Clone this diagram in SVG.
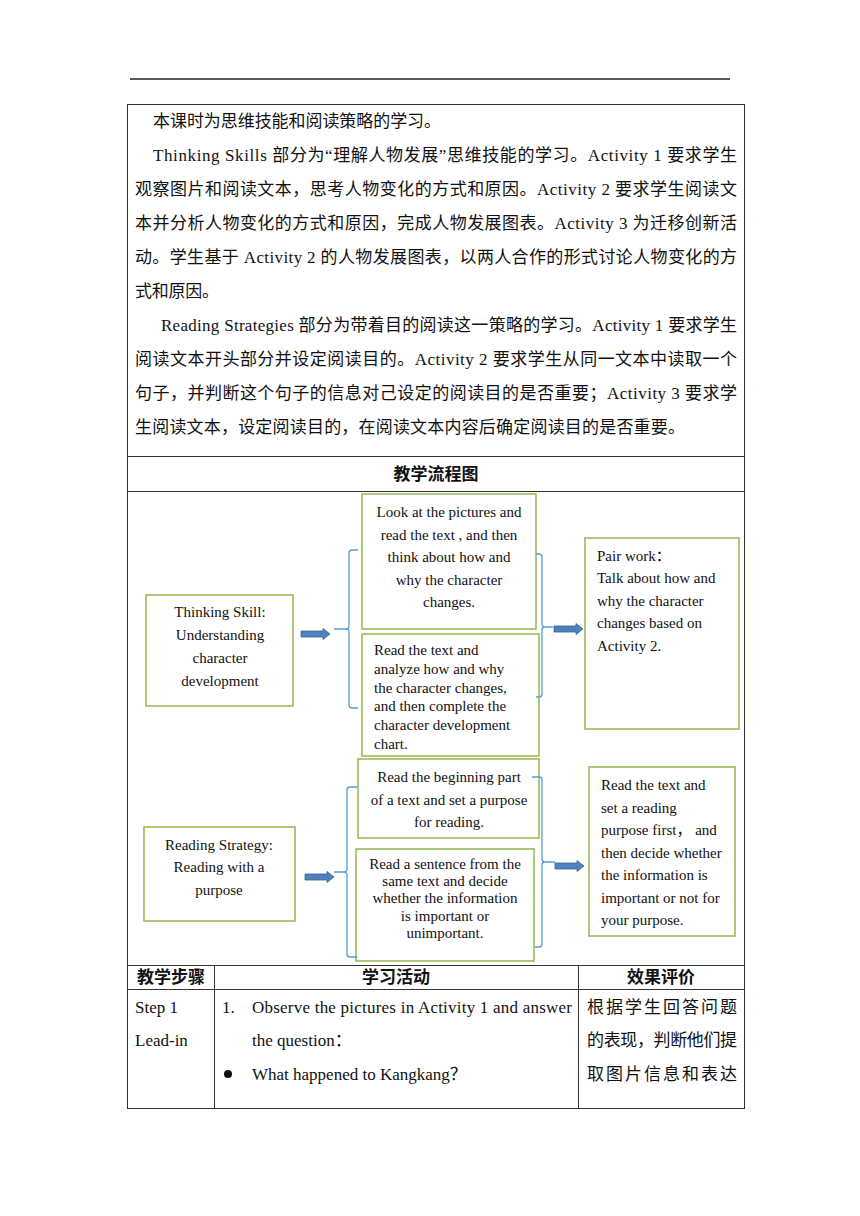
<svg xmlns="http://www.w3.org/2000/svg" xmlns:xlink="http://www.w3.org/1999/xlink" width="860" height="1216" viewBox="0 0 860 1216">
<style>
.p{font-family:"Liberation Serif","Noto Sans CJK SC",serif;font-size:17px;fill:#111}
.h{font-family:"Liberation Serif","Noto Sans CJK SC",sans-serif;font-size:17px;font-weight:bold;fill:#111}
.t{font-family:"Liberation Serif","Noto Sans CJK SC",serif;font-size:17px;fill:#111}
.f{font-family:"Liberation Serif","Noto Sans CJK SC",serif;font-size:15px;fill:#111}
.box{fill:#fff;stroke:#9BBB59;stroke-width:1.6}
.grid{stroke:#333;stroke-width:1;fill:none}
.br{fill:none;stroke:#5B9BD5;stroke-width:1.3}
.ar{fill:#4F81BD;stroke:#3A6496;stroke-width:0.8}
</style>
<defs>
<path id="arr" d="M0,-3 H22 V-5.5 L29,0 L22,5.5 V3 H0 Z"/>
</defs>
<rect width="860" height="1216" fill="#fff"/>
<line x1="130" y1="79" x2="730" y2="79" stroke="#222" stroke-width="1.5"/>
<g id="table">
<rect class="grid" x="127.5" y="104.5" width="617" height="1004"/>
<line class="grid" x1="127.5" y1="456.5" x2="744.5" y2="456.5"/>
<line class="grid" x1="127.5" y1="491.5" x2="744.5" y2="491.5"/>
<line class="grid" x1="127.5" y1="965.5" x2="744.5" y2="965.5"/>
<line class="grid" x1="127.5" y1="989.5" x2="744.5" y2="989.5"/>
<line class="grid" x1="214.5" y1="965.5" x2="214.5" y2="1108.5"/>
<line class="grid" x1="578.5" y1="965.5" x2="578.5" y2="1108.5"/>
</g>
<g id="intro">
<text class="p" x="153" y="127" textLength="288" lengthAdjust="spacing">本课时为思维技能和阅读策略的学习。</text>
<text class="p" x="153" y="161" textLength="584" lengthAdjust="spacing">Thinking Skills 部分为“理解人物发展”思维技能的学习。Activity 1 要求学生</text>
<text class="p" x="135" y="195" textLength="602" lengthAdjust="spacing">观察图片和阅读文本，思考人物变化的方式和原因。Activity 2 要求学生阅读文</text>
<text class="p" x="135" y="229" textLength="602" lengthAdjust="spacing">本并分析人物变化的方式和原因，完成人物发展图表。Activity 3 为迁移创新活</text>
<text class="p" x="135" y="263" textLength="602" lengthAdjust="spacing">动。学生基于 Activity 2 的人物发展图表，以两人合作的形式讨论人物变化的方</text>
<text class="p" x="135" y="297" textLength="84" lengthAdjust="spacing">式和原因。</text>
<text class="p" x="161" y="331" textLength="576" lengthAdjust="spacing">Reading Strategies 部分为带着目的阅读这一策略的学习。Activity 1 要求学生</text>
<text class="p" x="135" y="365" textLength="602" lengthAdjust="spacing">阅读文本开头部分并设定阅读目的。Activity 2 要求学生从同一文本中读取一个</text>
<text class="p" x="135" y="399" textLength="602" lengthAdjust="spacing">句子，并判断这个句子的信息对己设定的阅读目的是否重要；Activity 3 要求学</text>
<text class="p" x="135" y="433" textLength="550" lengthAdjust="spacing">生阅读文本，设定阅读目的，在阅读文本内容后确定阅读目的是否重要。</text>
<text class="h" x="436" y="480" text-anchor="middle">教学流程图</text>
</g>
<g id="node-thinking">
<rect class="box" x="146" y="595" width="147" height="111"/>
<text class="f" text-anchor="middle"><tspan x="220" y="617">Thinking Skill:</tspan><tspan x="220" y="640">Understanding</tspan><tspan x="220" y="663">character</tspan><tspan x="220" y="686">development</tspan></text>
</g>
<g id="node-look">
<rect class="box" x="362" y="494" width="174" height="135"/>
<text class="f" text-anchor="middle"><tspan x="449" y="517">Look at the pictures and</tspan><tspan x="449" y="540">read the text , and then</tspan><tspan x="449" y="562">think about how and</tspan><tspan x="449" y="585">why the character</tspan><tspan x="449" y="607">changes.</tspan></text>
</g>
<g id="node-analyze">
<rect class="box" x="362" y="634" width="177" height="122"/>
<text class="f"><tspan x="374" y="655">Read the text and</tspan><tspan x="374" y="674">analyze how and why</tspan><tspan x="374" y="693">the character changes,</tspan><tspan x="374" y="711">and then complete the</tspan><tspan x="374" y="730">character development</tspan><tspan x="374" y="749">chart.</tspan></text>
</g>
<g id="node-pair">
<rect class="box" x="585" y="538" width="154" height="191"/>
<text class="f"><tspan x="597" y="561">Pair work：</tspan><tspan x="597" y="583">Talk about how and</tspan><tspan x="597" y="606">why the character</tspan><tspan x="597" y="628">changes based on</tspan><tspan x="597" y="651">Activity 2.</tspan></text>
</g>
<g id="node-strategy">
<rect class="box" x="144" y="827" width="151" height="94"/>
<text class="f" text-anchor="middle"><tspan x="219" y="850">Reading Strategy:</tspan><tspan x="219" y="872">Reading with a</tspan><tspan x="219" y="895">purpose</tspan></text>
</g>
<g id="node-beginning">
<rect class="box" x="358" y="759" width="181" height="79"/>
<text class="f" text-anchor="middle"><tspan x="449" y="782">Read the beginning part</tspan><tspan x="449" y="805">of a text and set a purpose</tspan><tspan x="449" y="827">for reading.</tspan></text>
</g>
<g id="node-sentence">
<rect class="box" x="356" y="849" width="178" height="112"/>
<text class="f" text-anchor="middle"><tspan x="445" y="869">Read a sentence from the</tspan><tspan x="445" y="886">same text and decide</tspan><tspan x="445" y="903">whether the information</tspan><tspan x="445" y="921">is important or</tspan><tspan x="445" y="938">unimportant.</tspan></text>
</g>
<g id="node-purpose">
<rect class="box" x="589" y="767" width="146" height="169"/>
<text class="f"><tspan x="601" y="790">Read the text and</tspan><tspan x="601" y="813">set a reading</tspan><tspan x="601" y="835">purpose first， and</tspan><tspan x="601" y="858">then decide whether</tspan><tspan x="601" y="880">the information is</tspan><tspan x="601" y="903">important or not for</tspan><tspan x="601" y="925">your purpose.</tspan></text>
</g>
<g id="connectors">
<path class="br" d="M358,550 H352 Q349,550 349,553 V626 Q349,629 346,629 H334 M346,629 Q349,629 349,632 V705 Q349,708 352,708 H358"/>
<path class="br" d="M536,554 H539 Q542,554 542,557 V624 Q542,627 545,627 H553 M545,627 Q542,627 542,630 V694 Q542,697 539,697 H536"/>
<path class="br" d="M357,787 H350 Q347,787 347,790 V869 Q347,872 344,872 H334 M344,872 Q347,872 347,875 V954 Q347,957 350,957 H357"/>
<path class="br" d="M532,777 H539 Q542,777 542,780 V859 Q542,862 545,862 H555 M545,862 Q542,862 542,865 V944 Q542,947 539,947 H535"/>
<use href="#arr" xlink:href="#arr" class="ar" x="301" y="634"/>
<use href="#arr" xlink:href="#arr" class="ar" x="554" y="629"/>
<use href="#arr" xlink:href="#arr" class="ar" x="305" y="877"/>
<use href="#arr" xlink:href="#arr" class="ar" x="555" y="866"/>
</g>
<g id="steps">
<text class="h" x="171" y="983" text-anchor="middle">教学步骤</text>
<text class="h" x="396" y="983" text-anchor="middle">学习活动</text>
<text class="h" x="661" y="983" text-anchor="middle">效果评价</text>
<text class="t" x="135" y="1013">Step 1</text>
<text class="t" x="135" y="1046">Lead-in</text>
<text class="t" x="222" y="1013">1.</text>
<text class="t" x="252" y="1013" textLength="320" lengthAdjust="spacing">Observe the pictures in Activity 1 and answer</text>
<text class="t" x="252" y="1046">the question：</text>
<circle cx="228" cy="1074" r="4" fill="#111"/>
<text class="t" x="252" y="1080">What happened to Kangkang？</text>
<text class="p" x="587" y="1013" textLength="150" lengthAdjust="spacing">根据学生回答问题</text>
<text class="p" x="587" y="1046" textLength="150" lengthAdjust="spacing">的表现，判断他们提</text>
<text class="p" x="587" y="1080" textLength="150" lengthAdjust="spacing">取图片信息和表达</text>
</g>
</svg>
